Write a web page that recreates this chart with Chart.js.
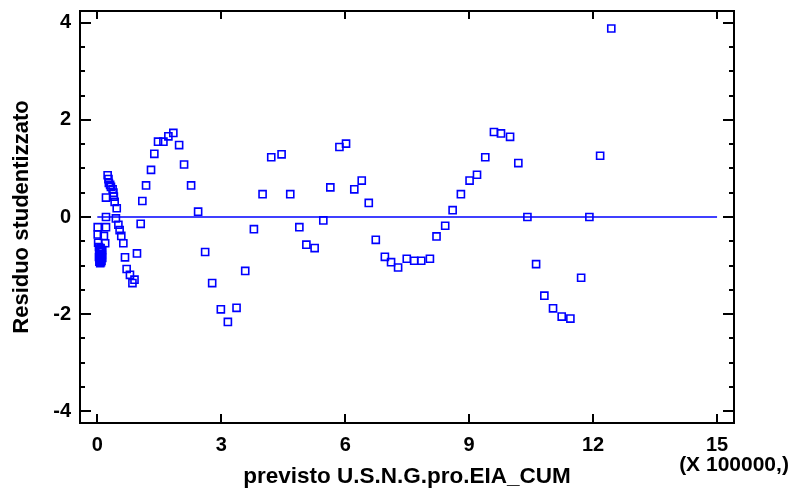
<!DOCTYPE html>
<html>
<head>
<meta charset="utf-8">
<script src="https://cdn.jsdelivr.net/npm/chart.js@4/dist/chart.umd.min.js"></script>
<style>
  body { margin: 0; background: #fff; }
</style>
</head>
<body>
<canvas id="myChart" width="795" height="488"></canvas>
<script>
// predicted values (X 100000) and studentized residuals
const predX = [
  0.04, 0.06, 0.08, 0.10, 0.05, 0.07, 0.09, 0.11, 0.04, 0.06, 0.08, 0.10, 0.05, 0.07, 0.09, 0.12, 0.12,
  0.01, 0.21, 0.01, 0.16, 0.02, 0.19, 0.21, 0.21, 0.25, 0.27, 0.28, 0.31, 0.33, 0.37, 0.39, 0.40, 0.42,
  0.47, 0.45, 0.51, 0.54, 0.58, 0.63, 0.67, 0.71, 0.79, 0.85, 0.90,
  0.96, 1.05, 1.09, 1.18, 1.30, 1.38, 1.47, 1.60, 1.72, 1.84, 1.98, 2.10, 2.27, 2.44, 2.61, 2.78,
  2.99, 3.16, 3.37, 3.58, 3.79, 4.00, 4.21, 4.46, 4.67, 4.89, 5.06, 5.26, 5.47, 5.64, 5.86, 6.02,
  6.22, 6.40, 6.57, 6.74, 6.96, 7.11, 7.28, 7.49, 7.67, 7.84, 8.05, 8.21, 8.42, 8.60, 8.80, 9.01,
  9.19, 9.39, 9.60, 9.77, 9.99, 10.19, 10.41, 10.62, 10.82, 11.03, 11.24, 11.45, 11.71, 11.91, 12.17, 12.44
];
const residY = [
  -0.62, -0.66, -0.64, -0.70, -0.72, -0.76, -0.80, -0.78, -0.82, -0.86, -0.88, -0.90, -0.92, -0.95, -0.93, -0.68, -0.84,
  -0.21, -0.21, -0.36, -0.39, -0.53, -0.54, 0.00, 0.40, 0.86, 0.78, 0.70, 0.66, 0.62, 0.57, 0.50, 0.42, 0.31,
  0.18, -0.03, -0.16, -0.27, -0.39, -0.54, -0.83, -1.07, -1.19, -1.36, -1.29,
  -0.75, -0.14, 0.33, 0.65, 0.97, 1.30, 1.55, 1.55, 1.66, 1.73, 1.48, 1.08, 0.65, 0.11, -0.72, -1.36,
  -1.90, -2.16, -1.87, -1.11, -0.25, 0.47, 1.23, 1.29, 0.47, -0.21, -0.57, -0.64, -0.07, 0.61, 1.44, 1.51,
  0.57, 0.75, 0.29, -0.47, -0.82, -0.93, -1.04, -0.86, -0.90, -0.90, -0.86, -0.40, -0.18, 0.14, 0.47, 0.75,
  0.87, 1.23, 1.75, 1.72, 1.65, 1.11, 0.00, -0.97, -1.62, -1.88, -2.05, -2.09, -1.25, 0.00, 1.26, 3.88
];
const xTicks = [0, 3, 6, 9, 12, 15];
const yTicks = [-4, -2, 0, 2, 4];
const yMinorTicks = [-4, -3.5, -3, -2.5, -2, -1.5, -1, -0.5, 0, 0.5, 1, 1.5, 2, 2.5, 3, 3.5, 4];
const zeroLine = [0, 15];

const BLUE = '#0000ff';
const FONT = 'Liberation Sans, Arial, sans-serif';

const points = predX.map((x, i) => ({ x: x, y: residY[i] }));

// frame, inward ticks and the x multiplier note
const framePlugin = {
  id: 'frame',
  afterDraw(chart) {
    const ctx = chart.ctx;
    const { left, right, top, bottom } = chart.chartArea;
    const xs = chart.scales.x;
    const ys = chart.scales.y;
    ctx.save();
    ctx.strokeStyle = '#000';
    ctx.lineWidth = 2;
    ctx.beginPath();
    ctx.rect(left, top, right - left, bottom - top);
    ctx.stroke();

    ctx.beginPath();
    yMinorTicks.forEach(v => {
      const py = Math.round(ys.getPixelForValue(v));
      const len = yTicks.includes(v) ? 11 : 5;
      ctx.moveTo(left, py); ctx.lineTo(left + len, py);
      ctx.moveTo(right, py); ctx.lineTo(right - len, py);
    });
    xTicks.forEach(v => {
      const px = Math.round(xs.getPixelForValue(v));
      ctx.moveTo(px, bottom); ctx.lineTo(px, bottom - 9);
      ctx.moveTo(px, top); ctx.lineTo(px, top + 8);
    });
    ctx.stroke();

    ctx.fillStyle = '#000';
    ctx.font = 'bold 21px ' + FONT;
    ctx.textAlign = 'center';
    ctx.textBaseline = 'middle';
    ctx.fillText('(X 100000,)', 734, 465);
    ctx.restore();
  }
};

const ctx = document.getElementById('myChart').getContext('2d');
new Chart(ctx, {
  type: 'scatter',
  data: {
    datasets: [
      {
        type: 'line',
        data: zeroLine.map(x => ({ x: x, y: 0 })),
        borderColor: BLUE,
        borderWidth: 1.5,
        pointRadius: 0,
        fill: false,
      },
      {
        data: points,
        pointStyle: 'rect',
        pointRadius: 5,
        pointBorderWidth: 1.6,
        pointBorderColor: BLUE,
        pointBackgroundColor: 'rgba(0,0,0,0)',
        showLine: false,
      },
    ],
  },
  options: {
    responsive: false,
    animation: false,
    devicePixelRatio: 1,
    layout: { padding: { top: 0, right: 61, left: 0, bottom: 0 } },
    plugins: { legend: { display: false }, tooltip: { enabled: false } },
    scales: {
      x: {
        type: 'linear',
        min: -0.419,
        max: 15.41,
        afterBuildTicks: s => { s.ticks = xTicks.map(v => ({ value: v })); },
        afterFit: s => { s.height = 65; },
        grid: { display: false, drawTicks: false },
        border: { display: false },
        ticks: {
          padding: 10,
          color: '#000',
          font: { family: FONT, size: 20, weight: 'bold' },
          maxRotation: 0,
        },
        title: {
          display: true,
          text: 'previsto U.S.N.G.pro.EIA_CUM',
          color: '#000',
          font: { family: FONT, size: 22.5, weight: 'bold' },
          padding: { top: 0, bottom: -2 },
        },
      },
      y: {
        type: 'linear',
        min: -4.24,
        max: 4.24,
        afterBuildTicks: s => { s.ticks = yTicks.map(v => ({ value: v })); },
        afterFit: s => { s.width = 80; s.paddingTop = 11; s.paddingBottom = 0; },
        grid: { display: false, drawTicks: false },
        border: { display: false },
        ticks: {
          padding: 9,
          color: '#000',
          font: { family: FONT, size: 20, weight: 'bold' },
        },
        title: {
          display: true,
          text: 'Residuo studentizzato',
          color: '#000',
          font: { family: FONT, size: 22, weight: 'bold' },
          padding: { top: 9, bottom: 0 },
        },
      },
    },
  },
  plugins: [framePlugin],
});
</script>
</body>
</html>
